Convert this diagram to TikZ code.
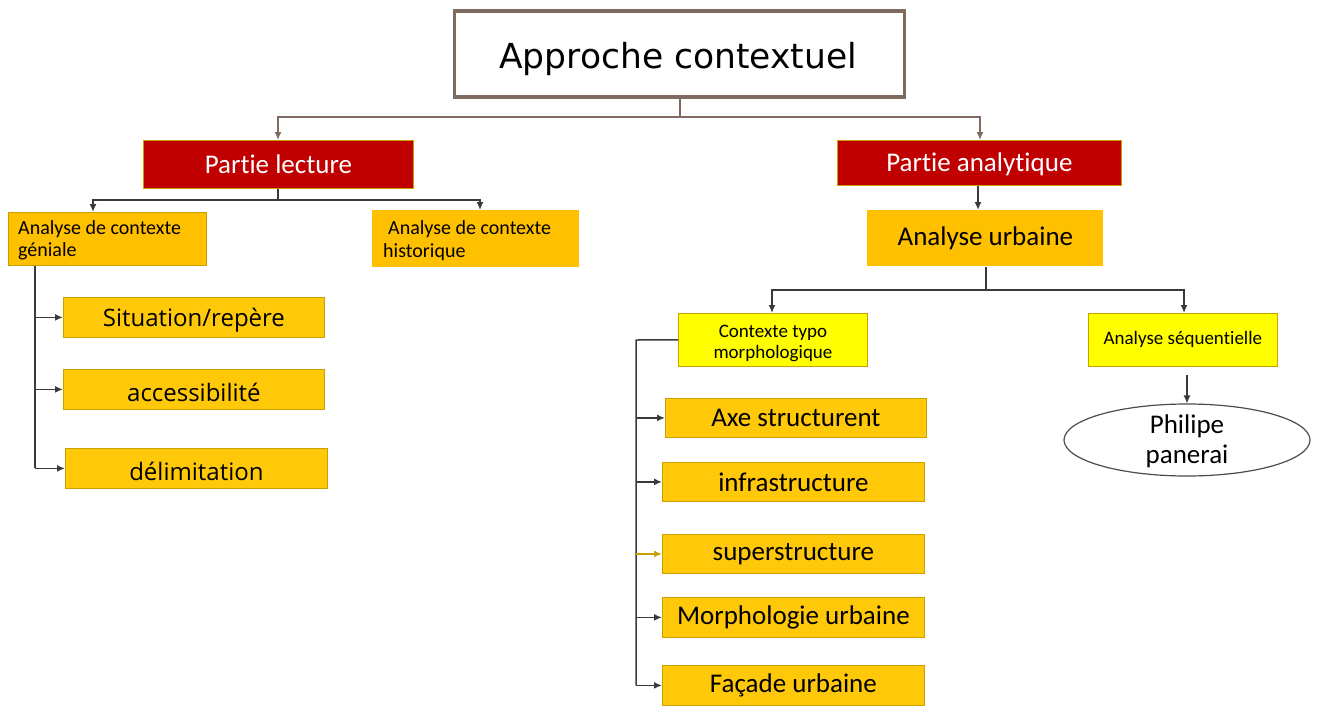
\documentclass[tikz,border=0pt]{standalone}
\usepackage{fontspec}
\setmainfont{Carlito}[Ligatures={TeX,CommonOff}]
\newfontfamily\titlefont{DejaVu Sans}
\newfontfamily\leaffont{Open Sans}
\usetikzlibrary{arrows.meta,shapes.geometric}
\definecolor{brownb}{HTML}{7F6A62}
\definecolor{redb}{HTML}{C00000}
\definecolor{goldb}{HTML}{FFC000}
\definecolor{goldleaf}{HTML}{FFC90A}
\definecolor{goldedge}{HTML}{C9A000}
\definecolor{yel}{HTML}{FFFF00}
\definecolor{lineg}{HTML}{3A3A3A}
\tikzset{
  box/.style={draw=goldedge, line width=0.8pt, inner sep=0pt, anchor=north west},
  redbox/.style={box, fill=redb},
  goldbox/.style={box, fill=goldb, font=\fontsize{20}{22}\selectfont},
  leafbox/.style={box, fill=goldleaf, font=\fontsize{27}{30}\selectfont},
  lleafbox/.style={box, fill=goldleaf},
  lleaftext/.style={font=\leaffont\fontsize{24}{28}\selectfont, yshift=-3pt},
  yelbox/.style={box, fill=yel, font=\fontsize{19}{21}\selectfont},
  redtext/.style={text=white, font=\fontsize{27}{30}\selectfont},
  conn/.style={draw=lineg, line width=1.5pt},
  arr/.style={conn, -{Latex[length=8pt,width=7pt]}},
}
\begin{document}
\begin{tikzpicture}[x=1pt,y=-1pt]
\useasboundingbox (0,0) rectangle (1320,707);
% title
\node[draw=brownb, line width=3.5pt, minimum width=450pt, minimum height=86pt, inner sep=0pt] (title) at (679.5,54) {};
\node[font=\titlefont\fontsize{34.5}{40}\selectfont, anchor=base] at (678,68) {Approche contextuel};
% level 1
\node[redbox, minimum width=270pt, minimum height=48pt] (lect) at (143,140) {};
\node[redtext] at (lect.center) {Partie lecture};
\node[redbox, minimum width=284pt, minimum height=45pt] (analy) at (837,140) {};
\node[redtext] at ([yshift=-1pt]analy.center) {Partie analytique};
% level 2 left
\node[goldbox, minimum width=198pt, minimum height=53pt] (gen) at (8,212) {};
\node[font=\fontsize{20}{22}\selectfont, anchor=base west, inner sep=0pt] at (18,234) {Analyse de contexte};
\node[font=\fontsize{20}{22}\selectfont, anchor=base west, inner sep=0pt] at (18,256) {géniale};
\node[goldbox, draw=none, minimum width=207pt, minimum height=57pt] (hist) at (372,210) {};
\node[font=\fontsize{20}{22}\selectfont, anchor=base west, inner sep=0pt] at (388,234) {Analyse de contexte};
\node[font=\fontsize{20}{22}\selectfont, anchor=base west, inner sep=0pt] at (383,257) {historique};
% left leaves
\node[lleafbox, minimum width=261pt, minimum height=40pt] (sit) at (63,297) {};
\node[lleaftext] at (sit.center) {Situation/repère};
\node[lleafbox, minimum width=261pt, minimum height=40pt] (acc) at (63,369) {};
\node[lleaftext] at (acc.center) {accessibilité};
\node[lleafbox, minimum width=262pt, minimum height=40pt] (del) at (65,448) {};
\node[lleaftext] at (del.center) {délimitation};
% right side
\node[goldbox, draw=none, minimum width=236pt, minimum height=56pt, font=\fontsize{27}{30}\selectfont] (urb) at (867,210) {Analyse urbaine};
\node[yelbox, minimum width=189pt, minimum height=53pt] (typo) at (678,313) {};
\node[font=\fontsize{19}{21}\selectfont] at (773,333) {Contexte typo};
\node[font=\fontsize{19}{21}\selectfont] at (773,354) {morphologique};
\node[yelbox, minimum width=189pt, minimum height=53pt] (seq) at (1088,313) {Analyse séquentielle};
\node[draw=black!70, line width=1.2pt, ellipse, minimum width=246pt, minimum height=72pt, inner sep=0pt] (phil) at (1187,440) {};
\node[font=\fontsize{27}{30}\selectfont] at (1187,426) {Philipe};
\node[font=\fontsize{27}{30}\selectfont] at (1187,456) {panerai};
% right leaves
\node[leafbox, minimum width=261pt, minimum height=39pt] (axe) at (665,398) {Axe structurent};
\node[leafbox, minimum width=262pt, minimum height=39pt] (infra) at (662,462) {infrastructure};
\node[leafbox, minimum width=262pt, minimum height=39pt] (sup) at (662,534) {superstructure};
\node[leafbox, minimum width=262pt, minimum height=40pt] (morph) at (662,597) {Morphologie urbaine};
\node[leafbox, minimum width=262pt, minimum height=40pt] (fac) at (662,665) {Façade urbaine};
% connector coordinates
\coordinate (tb) at (680,117);
\coordinate (lb) at (278,200);
\coordinate (ub) at (986,290);
\coordinate (gv) at (35,265);
\coordinate (tv) at (636,340);
\coordinate (sq) at (1187,375);
% connectors
\draw[conn, draw=brownb] (title.south -| tb) -- (tb);
\draw[arr, draw=brownb] (tb) -| (lect.north -| 278,0);
\draw[arr, draw=brownb] (tb) -| (analy.north -| 980,0);
\draw[conn] (lect.south -| lb) -- (lb);
\draw[arr] (lb) -| (gen.north -| 93,0);
\draw[arr] (lb) -| (hist.north -| 480,0);
\draw[arr] (analy.south -| 978,0) -- (urb.north -| 978,0);
\draw[conn] (urb.south -| ub) -- (ub);
\draw[arr] (ub) -| (typo.north -| 772,0);
\draw[arr] (ub) -| (seq.north -| 1184,0);
\draw[conn] (gen.south -| gv) -- (gv |- del.west);
\draw[arr] (gv |- sit.west) -- (sit.west);
\draw[arr] (gv |- acc.west) -- (acc.west);
\draw[arr] (gv |- del.west) -- (del.west);
\draw[conn] (typo.west) -- (tv) -- (tv |- fac.west);
\draw[arr] (tv |- axe.west) -- (axe.west);
\draw[arr] (tv |- infra.west) -- (infra.west);
\draw[arr, draw=goldedge] (tv |- sup.west) -- (sup.west);
\draw[arr] (tv |- morph.west) -- (morph.west);
\draw[arr] (tv |- fac.west) -- (fac.west);
\draw[arr, line width=1.2pt] (sq) -- (phil.north);
\end{tikzpicture}
\end{document}
